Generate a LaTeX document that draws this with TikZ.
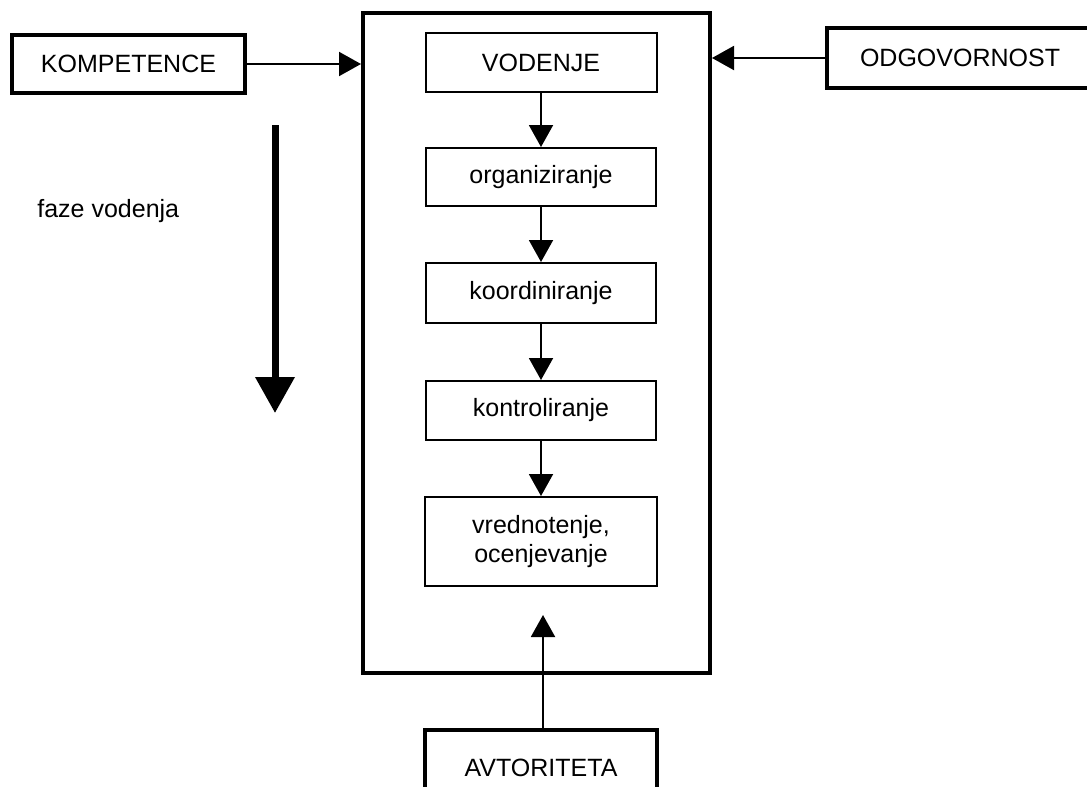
\documentclass[tikz,border=0pt]{standalone}
\usepackage{fontspec}
\setmainfont{Liberation Sans}
\usetikzlibrary{arrows.meta}
\tikzset{
  stage/.style={draw, line width=1pt, rectangle, inner sep=0pt,
                font=\fontsize{12.5}{14.5}\selectfont, align=center},
  factor/.style={draw, line width=2pt, rectangle, inner sep=0pt,
                 font=\fontsize{12.5}{14.5}\selectfont},
  flow/.style={line width=1pt, -{Triangle[width=12pt,length=11pt]}},
  phase/.style={line width=3.5pt, -{Triangle[width=19pt,length=18pt]}}
}
\begin{document}
\begin{tikzpicture}[x=0.5pt,y=-0.5pt]
  \path[use as bounding box, clip] (0,0) rectangle (1087,787);

  % frame holding the phases of leadership
  \node[draw, line width=2pt, minimum width=173.5pt, minimum height=330pt, inner sep=0pt]
    (frame) at (536.5,343) {};

  % phases
  \node[stage, minimum width=115.5pt, minimum height=29.5pt] (vod) at (541,62.5) {VODENJE};
  \node[stage, minimum width=115pt, minimum height=29pt] (org) at (541,177) {organiziranje};
  \node[stage, minimum width=115pt, minimum height=30pt] (koo) at (541,293) {koordiniranje};
  \node[stage, minimum width=115pt, minimum height=29.5pt] (kon) at (541,410.5) {kontroliranje};
  \node[stage, minimum width=116pt, minimum height=44.5pt] (vre) at (541,541.5) {vrednotenje,\\ocenjevanje};

  \draw[flow] (vod.south) -- (vod.south |- org.north);
  \draw[flow] (org.south) -- (org.south |- koo.north);
  \draw[flow] (koo.south) -- (koo.south |- kon.north);
  \draw[flow] (kon.south) -- (kon.south |- vre.north);

  % outer factors
  \node[factor, minimum width=116.5pt, minimum height=29pt] (komp) at (128.5,64) {KOMPETENCE};
  \node[factor, line width=1.6pt, minimum width=133pt, minimum height=30pt] (odg) at (960,58) {ODGOVORNOST};
  \node[factor, line width=1.8pt, minimum width=116pt, minimum height=38pt] (avt) at (541,768) {AVTORITETA};

  \draw[flow] (komp.east) -- (komp.east -| frame.west);
  \draw[flow] (odg.west) -- (odg.west -| frame.east);
  \coordinate (avtend) at (543,615);
  \draw[flow] (avt.north -| avtend) -- (avtend);

  % direction of the phases
  \coordinate (phtop) at (275,125);
  \coordinate (phbot) at (275,413);
  \draw[phase] (phtop) -- (phbot);
  \node[anchor=base west, inner sep=0pt, font=\fontsize{12.5}{14.5}\selectfont] (faze) at (37,217) {faze vodenja};
\end{tikzpicture}
\end{document}
